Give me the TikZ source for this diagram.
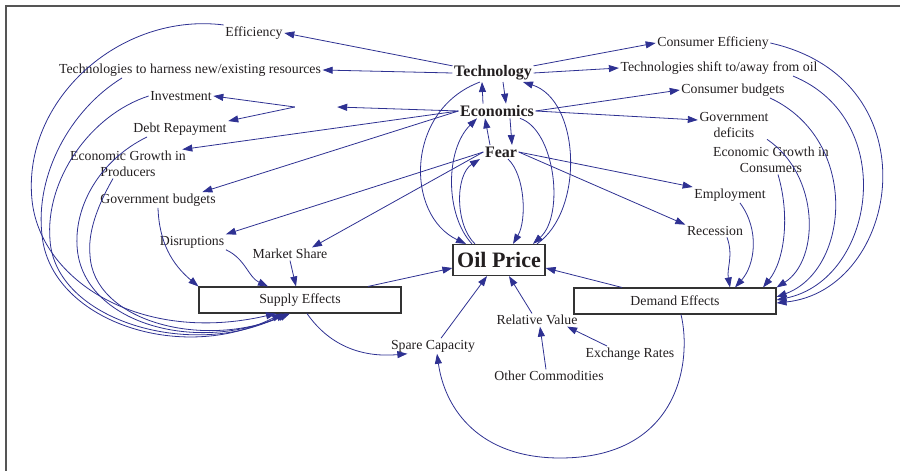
\documentclass[tikz,border=0pt]{standalone}
\usepackage{fontspec}
\setmainfont{Liberation Serif}
\usetikzlibrary{arrows.meta, calc}
\definecolor{linkcolor}{HTML}{2E3192}
\definecolor{boxborder}{HTML}{333333}
\definecolor{framecolor}{HTML}{555555}
\definecolor{labelcolor}{HTML}{231F20}
\newcommand{\varfont}{\fontsize{13.8}{16}\selectfont}
\newcommand{\hubfont}{\fontsize{16}{18}\selectfont\bfseries}
\newcommand{\oilfont}{\fontsize{22}{24}\selectfont\bfseries}

\begin{document}
\begin{tikzpicture}[
    x=1pt, y=1pt,
    >={Triangle[length=10pt, width=7pt]},
    var/.style={font=\varfont, text=labelcolor, inner sep=1.5pt, align=center},
    hub/.style={font=\hubfont, text=labelcolor, inner sep=1.5pt},
    effbox/.style={draw=boxborder, line width=1.1pt, font=\varfont,
        text=labelcolor, minimum width=202pt, minimum height=26pt, inner sep=0pt},
    oilbox/.style={draw=boxborder, line width=1.2pt, font=\oilfont,
        text=labelcolor, minimum width=92pt, minimum height=31pt, inner sep=0pt},
    arr/.style={->, draw=linkcolor, line width=0.8pt},
    frame/.style={draw=framecolor, line width=1.4pt},
]
\useasboundingbox (0,0) rectangle (900,-471);
\draw[frame] (6,-471) -- (6,-6) -- (900,-6);

% --- Drivers ---
\node[hub] (tech) at (493,-73) {Technology};
\node[hub] (econ) at (497,-111) {Economics};
\node[hub] (fear) at (501,-152) {Fear};

% --- Supply side variables ---
\node[var] (eff) at (254,-33) {Efficiency};
\node[var] (techres) at (190,-70) {Technologies to harness new/existing resources};
\node[var] (inv) at (181,-96) {Investment};
\node[var] (debt) at (180,-129) {Debt Repayment};
\node[var] (egp) at (128,-164) {Economic Growth in\\Producers};
\node[var] (govb) at (158,-200) {Government budgets};
\node[var] (disr) at (192,-242) {Disruptions};
\node[var] (mshare) at (290,-254) {Market Share};
\node[minimum width=42pt, minimum height=8pt, inner sep=0pt] (split) at (316,-107) {};

% --- Demand side variables ---
\node[var] (ceff) at (713,-43) {Consumer Efficieny};
\node[var] (techshift) at (719,-68) {Technologies shift to/away from oil};
\node[var] (cbud) at (733,-90) {Consumer budgets};
\node[var] (govd) at (734,-125) {Government\\deficits};
\node[var] (egc) at (771,-160) {Economic Growth in\\Consumers};
\node[var] (empl) at (730,-195) {Employment};
\node[var] (reces) at (715,-231) {Recession};

% --- Effects and price ---
\node[effbox] (supply) at (300,-300) {Supply Effects};
\node[effbox] (demand) at (675,-301) {Demand Effects};
\node[oilbox] (oil) at (499,-260) {Oil Price};
\node[var] (spare) at (433,-346) {Spare Capacity};
\node[var] (relval) at (537,-320) {Relative Value};
\node[var] (exch) at (630,-354) {Exchange Rates};
\node[var] (othc) at (549,-376) {Other Commodities};

% Technology links
\draw[arr] (tech.170) -- (eff.east);
\draw[arr] (tech.west) -- (techres.east);
\draw[arr] (tech.10) -- (ceff.west);
\draw[arr] (tech.east) -- (techshift.west);
\draw[arr] ([xshift=10pt]tech.south) -- ([xshift=9pt]econ.north);
\draw[arr] ([xshift=-14pt]econ.north) -- ([xshift=-11pt]tech.south);

% Economics links
\draw[arr] (econ.west) -- (split.east);
\draw[arr] (split.west) -- (inv.east);
\draw[arr] (split.west) -- (debt.north east);
\draw[arr] (econ.west) -- (egp.15);
\draw[arr] (econ.west) -- ([xshift=-15pt]govb.north east);
\draw[arr] (econ.east) -- (cbud.west);
\draw[arr] (econ.east) -- ([yshift=5pt]govd.west);
\draw[arr] ([xshift=13pt]econ.south) -- ([xshift=11pt]fear.north);
\draw[arr] ([xshift=-11pt]fear.north) -- ([xshift=-12pt]econ.south);

% Fear links
\draw[arr] (fear.west) -- (disr.north east);
\draw[arr] (fear.west) -- ([xshift=22pt]mshare.north);
\draw[arr] (fear.east) -- (empl.north west);
\draw[arr] (fear.east) -- (reces.north west);

% Loops between drivers and the price
\draw[arr] ([xshift=-13pt]tech.south) .. controls (405,-110) and (405,-215) .. ([xshift=-33pt]oil.north);
\draw[arr] ([xshift=-27pt]oil.north) .. controls (445,-215) and (445,-150) .. ([xshift=-20pt]econ.south);
\draw[arr] ([xshift=-24pt]oil.north) .. controls (455,-225) and (455,-175) .. ([xshift=-21pt]fear.south);
\draw[arr] ([xshift=7pt]fear.south) .. controls (525,-175) and (527,-220) .. ([xshift=14pt]oil.north);
\draw[arr] ([xshift=23pt]econ.south) .. controls (555,-130) and (565,-215) .. ([xshift=34pt]oil.north);
\draw[arr] ([xshift=38pt]oil.north) .. controls (585,-210) and (580,-100) .. ([xshift=30pt]tech.south);

% Supply side arcs
\draw[arr] (eff.north west) .. controls (120,-12) and (22,-100) .. (32,-200)
    .. controls (40,-280) and (140,-345) .. ([xshift=-24pt]supply.south);
\draw[arr] ([xshift=-68pt]techres.south) .. controls (70,-110) and (35,-175) .. (42,-235)
    .. controls (50,-320) and (180,-365) .. ([xshift=-18pt]supply.south);
\draw[arr] (inv.west) .. controls (90,-115) and (45,-180) .. (50,-240)
    .. controls (55,-320) and (190,-360) .. ([xshift=-14pt]supply.south);
\draw[arr] ([xshift=-33pt]debt.south) .. controls (100,-160) and (75,-205) .. (77,-245)
    .. controls (80,-320) and (190,-355) .. ([xshift=-12pt]supply.south);
\draw[arr] ([xshift=-15pt]egp.south) .. controls (95,-210) and (88,-235) .. (90,-255)
    .. controls (93,-320) and (200,-350) .. ([xshift=-10pt]supply.south);
\draw[arr] (govb.south) to[out=-88, in=140] (supply.north west);
\draw[arr] (disr.south east) to[out=-25, in=155] ([xshift=-32pt]supply.north);
\draw[arr] (mshare.south) -- ([xshift=-4pt]supply.north);

% Supply effects onwards
\draw[arr] ([xshift=68pt]supply.north) -- ([yshift=-8pt]oil.west);
\draw[arr] ([xshift=7pt]supply.south) to[out=-55, in=185] ([xshift=18pt]spare.south west);
\draw[arr] ([xshift=8pt]spare.north) -- ([xshift=-12pt]oil.south);

% Relative value
\draw[arr] ([xshift=-5pt]relval.north) -- ([xshift=10pt]oil.south);
\draw[arr] ([xshift=-3pt]othc.north) -- ([xshift=3pt]relval.south);
\draw[arr] ([xshift=-23pt]exch.north) -- ([xshift=-12pt]relval.south east);

% Demand side arcs
\draw[arr] ([xshift=12pt]reces.south) to[out=-70, in=100] ([xshift=55pt]demand.north);
\draw[arr] ([xshift=10pt]empl.south) .. controls (760,-230) and (755,-265) .. ([xshift=60pt]demand.north);
\draw[arr] ([xshift=7pt]egc.south) .. controls (790,-215) and (785,-260) .. ([xshift=88pt]demand.north);
\draw[arr] ([xshift=33pt]govd.south) .. controls (820,-175) and (820,-260) .. (demand.north east);
\draw[arr] ([xshift=37pt]cbud.south) .. controls (860,-140) and (850,-270) .. ([yshift=4pt]demand.east);
\draw[arr] ([xshift=74pt]techshift.south) .. controls (900,-120) and (875,-280) .. ([yshift=1pt]demand.east);
\draw[arr] (ceff.east) .. controls (935,-80) and (900,-290) .. ([yshift=-2pt]demand.east);

% Demand effects onwards
\draw[arr] ([xshift=-53pt]demand.north) -- ([yshift=-8pt]oil.east);
\draw[arr] ([xshift=6pt]demand.south) .. controls (692,-360) and (680,-458) .. (560,-458)
    .. controls (480,-458) and (445,-410) .. ([xshift=4pt]spare.south);
\end{tikzpicture}
\end{document}
